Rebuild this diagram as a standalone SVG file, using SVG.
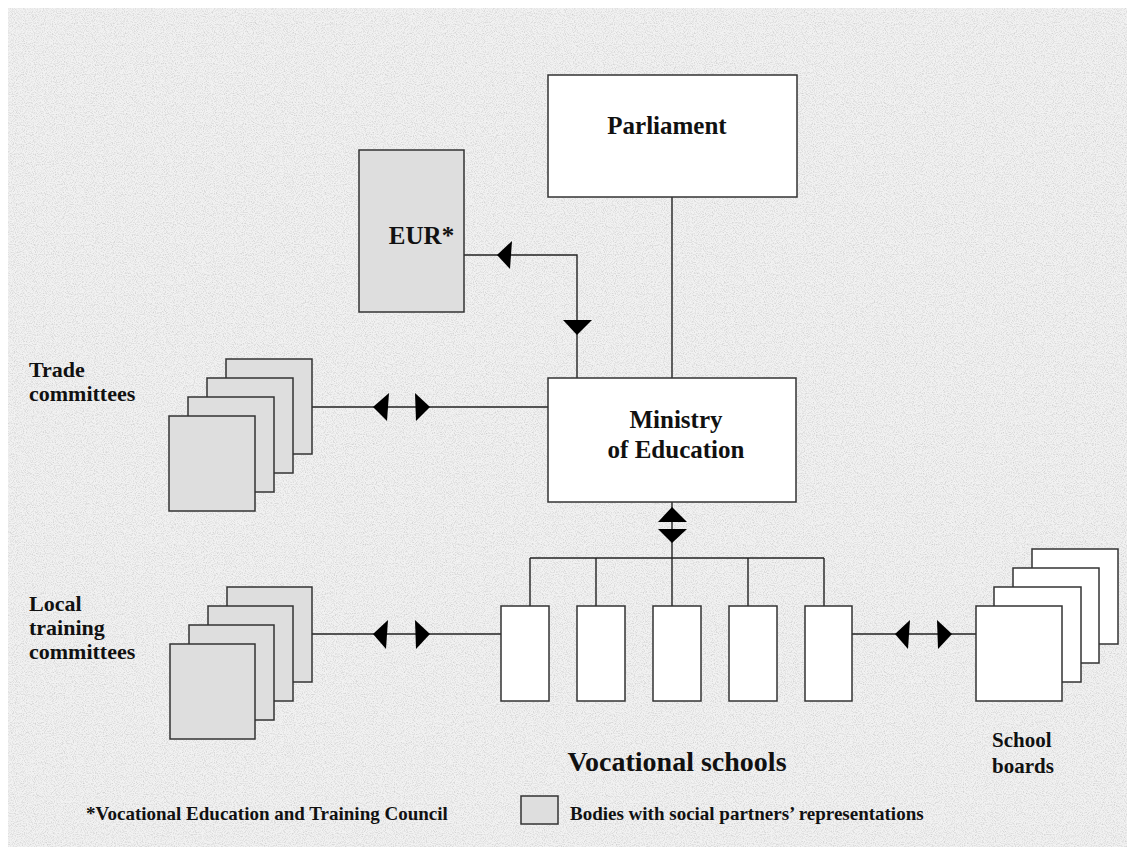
<svg xmlns="http://www.w3.org/2000/svg" width="1135" height="855" viewBox="0 0 1135 855">
<style>
.box{stroke:#333;stroke-width:1.5}
.w{fill:#fff}
.g{fill:#dedede}
.ln{stroke:#222;stroke-width:1.4;fill:none}
.ah{fill:#000}
.t{font-family:"Liberation Serif","Times New Roman",serif;font-weight:bold;fill:#111}
.big{font-size:25px}
.vs{font-size:28px}
.mid{font-size:22px}
.sb{font-size:21px}
.sm{font-size:19px}
</style>
<defs>
<filter id="noise" x="0" y="0" width="100%" height="100%">
<feTurbulence type="fractalNoise" baseFrequency="0.9" numOctaves="2" seed="7"/>
<feColorMatrix type="matrix" values="0 0 0 0 0.6  0 0 0 0 0.6  0 0 0 0 0.6  2 0 0 0 -0.85"/>
</filter>
</defs>
<rect x="0" y="0" width="1135" height="855" fill="#fff"/>
<rect x="8" y="8" width="1119" height="839" fill="#f2f2f2"/>
<rect x="8" y="8" width="1119" height="839" filter="url(#noise)"/>

<g id="connectors">
<line class="ln" x1="672" y1="197" x2="672" y2="378"/>
<polyline class="ln" points="577,378 577,255 464,255"/>
<polygon class="ah" points="497,255 512,241 510,269"/>
<polygon class="ah" points="577,335 563,320 592,320"/>
<line class="ln" x1="312" y1="407" x2="548" y2="407"/>
<polygon class="ah" points="373,407 389,393 387,421"/>
<polygon class="ah" points="430,407 415,393 416,421"/>
<line class="ln" x1="672" y1="502" x2="672" y2="558"/>
<polygon class="ah" points="672,507 658,522 687,522"/>
<polygon class="ah" points="672,543 658,529 687,529"/>
<line class="ln" x1="530" y1="558" x2="824" y2="558"/>
<line class="ln" x1="530" y1="558" x2="530" y2="606"/>
<line class="ln" x1="596" y1="558" x2="596" y2="606"/>
<line class="ln" x1="672" y1="558" x2="672" y2="606"/>
<line class="ln" x1="748" y1="558" x2="748" y2="606"/>
<line class="ln" x1="824" y1="558" x2="824" y2="606"/>
<line class="ln" x1="312" y1="634" x2="501" y2="634"/>
<polygon class="ah" points="373,634 388,620 386,649"/>
<polygon class="ah" points="430,634 415,620 416,649"/>
<line class="ln" x1="852" y1="634" x2="976" y2="634"/>
<polygon class="ah" points="895,634 910,620 908,649"/>
<polygon class="ah" points="952,634 937,620 938,649"/>
</g>

<g id="parliament">
<rect class="box w" x="548" y="75" width="249" height="122"/>
<text class="t big" x="667" y="134" text-anchor="middle">Parliament</text>
</g>

<g id="eur">
<rect class="box g" x="359" y="150" width="105" height="162"/>
<text class="t big" x="421.5" y="244" text-anchor="middle">EUR*</text>
</g>

<g id="ministry">
<rect class="box w" x="548" y="378" width="248" height="124"/>
<text class="t big" x="676" y="428" text-anchor="middle">Ministry</text>
<text class="t big" x="676" y="458" text-anchor="middle">of Education</text>
</g>

<g id="trade-committees">
<rect class="box g" x="226" y="359" width="86" height="95"/>
<rect class="box g" x="207" y="378" width="86" height="95"/>
<rect class="box g" x="188" y="397" width="86" height="95"/>
<rect class="box g" x="169" y="416" width="86" height="95"/>
<text class="t mid" x="29" y="377">Trade</text>
<text class="t mid" x="29" y="401">committees</text>
</g>

<g id="local-training-committees">
<rect class="box g" x="227" y="587" width="85" height="95"/>
<rect class="box g" x="208" y="606" width="85" height="95"/>
<rect class="box g" x="189" y="625" width="85" height="95"/>
<rect class="box g" x="170" y="644" width="85" height="95"/>
<text class="t mid" x="29" y="611">Local</text>
<text class="t mid" x="29" y="635">training</text>
<text class="t mid" x="29" y="659">committees</text>
</g>

<g id="vocational-schools">
<rect class="box w" x="501" y="606" width="48" height="95"/>
<rect class="box w" x="577" y="606" width="48" height="95"/>
<rect class="box w" x="653" y="606" width="48" height="95"/>
<rect class="box w" x="729" y="606" width="48" height="95"/>
<rect class="box w" x="805" y="606" width="47" height="95"/>
<text class="t vs" x="677" y="771" text-anchor="middle">Vocational schools</text>
</g>

<g id="school-boards">
<rect class="box w" x="1032" y="549" width="86" height="95"/>
<rect class="box w" x="1013" y="568" width="86" height="95"/>
<rect class="box w" x="994" y="587" width="87" height="95"/>
<rect class="box w" x="976" y="606" width="86" height="95"/>
<text class="t sb" x="992" y="747">School</text>
<text class="t sb" x="992" y="773">boards</text>
</g>

<g id="legend">
<text class="t sm" x="86" y="820">*Vocational Education and Training Council</text>
<rect class="box g" x="521" y="796" width="37" height="28"/>
<text class="t sm" x="570" y="820">Bodies with social partners’ representations</text>
</g>
</svg>
